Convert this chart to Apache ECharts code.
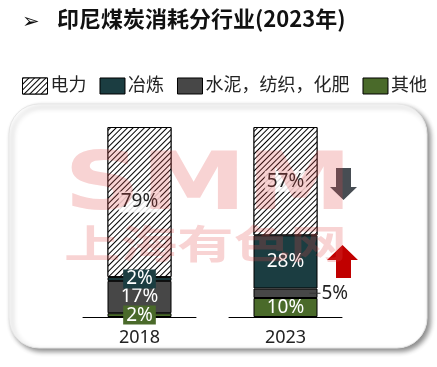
<!DOCTYPE html>
<html>
<head>
<meta charset="utf-8">
<script src="https://cdn.jsdelivr.net/npm/echarts@6/dist/echarts.min.js"></script>
<style>html,body{margin:0;padding:0;background:#fff;}#c{width:437px;height:367px;}</style>
</head>
<body>
<div id="c"></div>
<script>
const categories = ['2018', '2023'];
const seriesNames = ['电力', '冶炼', '水泥，纺织，化肥', '其他'];
const power = [79, 57];
const smelting = [2, 28];
const cement = [17, 5];
const other = [2, 10];
const titleText = '印尼煤炭消耗分行业(2023年)';

const C_TEAL = '#1b3d41', C_GRAY = '#474747', C_GREEN = '#4a6a2a';
const FONT = '"Noto Sans", "Noto Sans CJK SC", sans-serif';
const hatch = {
  symbol: 'rect', symbolSize: 1, color: '#000', backgroundColor: '#fff',
  dashArrayX: [[1, 0]], dashArrayY: [1, 2.4], rotation: -Math.PI / 4
};
const chart = echarts.init(document.getElementById('c'), null, {renderer: 'canvas'});

const gridLefts = [83, 229];
const grids = gridLefts.map(l => ({left: l, width: 113, top: 127, height: 190, containLabel: false}));
const xAxes = categories.map((c, i) => ({
  type: 'category', gridIndex: i, data: [c],
  axisLine: {show: true, lineStyle: {color: '#000', width: 1}},
  axisTick: {show: false},
  axisLabel: {color: '#222', fontSize: 18, margin: 12, fontFamily: FONT}
}));
const yAxes = categories.map((c, i) => ({
  type: 'value', gridIndex: i, min: 0, max: 100, show: false, splitLine: {show: false}
}));

const baseLabel = {show: true, fontSize: 19, fontFamily: FONT, formatter: '{c}%', position: 'inside'};
function labelFor(key, i) {
  if (key === 'power') return Object.assign({}, baseLabel, {color: '#222', backgroundColor: 'rgba(255,255,255,0.85)', padding: [1, 2]});
  if (key === 'smelting') return i === 0
    ? Object.assign({}, baseLabel, {color: '#fff', backgroundColor: C_TEAL, padding: [0, 3]})
    : Object.assign({}, baseLabel, {color: '#fff'});
  if (key === 'cement') return i === 0
    ? Object.assign({}, baseLabel, {color: '#fff'})
    : Object.assign({}, baseLabel, {position: 'right', distance: -8, formatter: '{l|}{t|{c}%}',
        rich: {l: {width: 11, height: 1, backgroundColor: '#333'}, t: {color: '#222', fontSize: 19, fontFamily: FONT, padding: [0, 0, 0, 1]}}});
  if (key === 'other') return i === 0
    ? Object.assign({}, baseLabel, {color: '#fff', backgroundColor: C_GREEN, padding: [0, 3]})
    : Object.assign({}, baseLabel, {color: '#fff'});
}
const defs = [
  {key: 'other', name: seriesNames[3], values: other, color: C_GREEN},
  {key: 'cement', name: seriesNames[2], values: cement, color: C_GRAY},
  {key: 'smelting', name: seriesNames[1], values: smelting, color: C_TEAL},
  {key: 'power', name: seriesNames[0], values: power, color: '#fff', decal: hatch}
];
const series = [];
categories.forEach((c, i) => {
  defs.forEach(d => {
    const itemStyle = {color: d.color, borderColor: '#000', borderWidth: 1};
    if (d.decal) itemStyle.decal = d.decal;
    series.push({
      type: 'bar', name: d.name, stack: 'g' + i, xAxisIndex: i, yAxisIndex: i,
      barWidth: 64, itemStyle: itemStyle,
      data: [{value: d.values[i], label: labelFor(d.key, i)}],
      z: 2
    });
  });
});

chart.setOption({
  animation: false,
  backgroundColor: '#fff',
  grid: grids, xAxis: xAxes, yAxis: yAxes, series: series,
  legend: {
    data: seriesNames, left: 17, top: 72, itemWidth: 25, itemHeight: 16, itemGap: 13,
    icon: 'rect',
    itemStyle: {borderColor: '#000', borderWidth: 1},
    textStyle: {fontSize: 18, color: '#222', fontFamily: FONT, padding: [0, 0, 0, -2]}
  },
  graphic: [
    {type: 'rect', z: -10, shape: {x: 9, y: 104, width: 418, height: 244, r: 30},
     style: {fill: '#fff', stroke: '#e6e6e6', lineWidth: 1, shadowBlur: 5, shadowOffsetX: 3, shadowOffsetY: 3, shadowColor: 'rgba(0,0,0,0.45)'}},
    {type: 'text', left: 22, top: 12, style: {text: '➢', fontSize: 21, fill: '#111', fontFamily: '"DejaVu Sans"'}},
    {type: 'text', left: 57, top: 8, style: {text: titleText, fontSize: 22, fontWeight: 'bold', fill: '#111', fontFamily: '"Noto Sans CJK SC", sans-serif'}},
    // arrows
    {type: 'polygon', z: 50, shape: {points: [[336, 168], [351, 168], [351, 187], [357, 187], [343.5, 200], [330, 187], [336, 187]]},
     style: {fill: '#474d53'}},
    {type: 'polygon', z: 50, shape: {points: [[336, 278], [351, 278], [351, 260], [358, 260], [342.5, 245], [327, 260], [336, 260]]},
     style: {fill: '#c00000'}},
    // watermark
    {type: 'text', z: 100, x: 64, y: 148, scaleX: 1.33, silent: true,
     style: {text: 'SMM', fontSize: 80, fontWeight: 'bold', fill: 'rgba(225,70,70,0.24)', fontFamily: '"DejaVu Sans"'}},
    {type: 'text', z: 100, x: 64, y: 224, scaleX: 1.45, silent: true,
     style: {text: '上海有色网', fontSize: 39, fontWeight: 'bold', fill: 'rgba(225,70,70,0.24)', fontFamily: '"Noto Sans CJK SC"'}}
  ]
});
</script>
</body>
</html>
